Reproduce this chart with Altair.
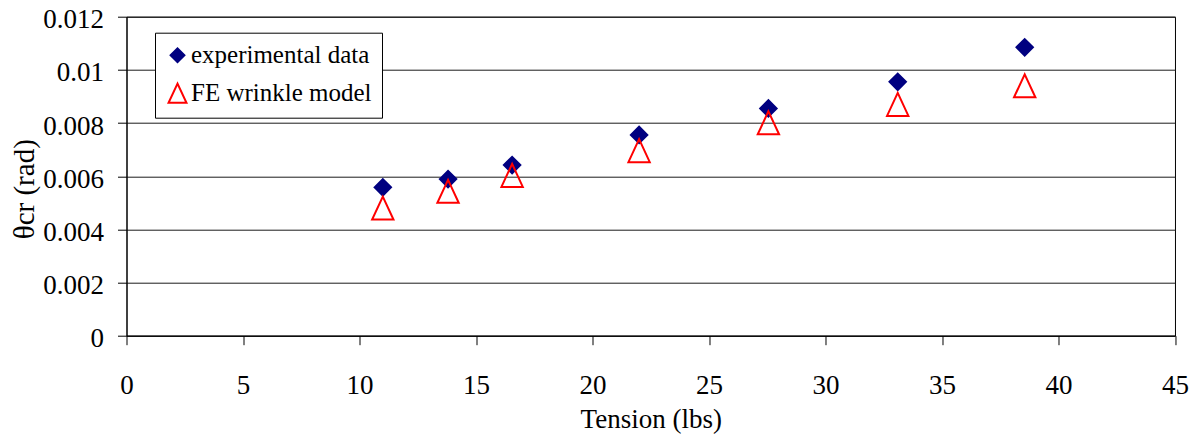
import altair as alt
import pandas as pd

# Data
series_names = ["experimental data", "FE wrinkle model"]
tension = [11.0, 13.8, 16.55, 22.0, 27.55, 33.1, 38.55]
exp_theta = [0.00558, 0.00589, 0.00642, 0.00755, 0.00855, 0.00955, 0.01085]
fe_theta = [0.0048, 0.00543, 0.00603, 0.00696, 0.00801, 0.0087, 0.0094]

x_ticks = [0, 5, 10, 15, 20, 25, 30, 35, 40, 45]
y_ticks = [0, 0.002, 0.004, 0.006, 0.008, 0.01, 0.012]

rows = []
for t, v in zip(tension, exp_theta):
    rows.append({"series": series_names[0], "tension": t, "theta": v})
for t, v in zip(tension, fe_theta):
    rows.append({"series": series_names[1], "tension": t, "theta": v})
df = pd.DataFrame(rows)

FONT = "Times New Roman, Liberation Serif, serif"
tri = "M0,-1.4L-1.3,1.4L1.3,1.4Z"

legend = alt.Legend(
    title=None,
    orient="none",
    legendX=28.5,
    legendY=16,
    fillColor="white",
    strokeColor="black",
    padding=10,
    symbolSize=190,
    symbolStrokeWidth=2,
    labelFont=FONT,
    labelFontSize=25,
    labelColor="black",
    labelOffset=1,
    labelLimit=400,
    rowPadding=10,
)

chart = (
    alt.Chart(df)
    .mark_point(filled=True, strokeWidth=2, opacity=1, size=270)
    .encode(
        x=alt.X(
            "tension:Q",
            scale=alt.Scale(domain=[0, 45], nice=False, zero=True),
            axis=alt.Axis(
                values=x_ticks,
                title="Tension (lbs)",
                grid=False,
                labelFlush=False,
                labelPadding=28,
                titleY=91.5,
                titleBaseline="alphabetic",
            ),
        ),
        y=alt.Y(
            "theta:Q",
            scale=alt.Scale(domain=[0, 0.012], nice=False),
            axis=alt.Axis(
                values=y_ticks,
                format=".3~f",
                title="θcr (rad)",
                grid=True,
                labelFlush=False,
                labelPadding=14,
                labelOffset=3,
                titleAngle=270,
                titleX=-102,
                titleY=172,
                titleAlign="center",
                titleBaseline="middle",
                titleFontSize=29,
            ),
        ),
        shape=alt.Shape(
            "series:N",
            scale=alt.Scale(domain=series_names, range=["diamond", tri]),
            legend=legend,
        ),
        fill=alt.Fill(
            "series:N",
            scale=alt.Scale(domain=series_names, range=["#000080", "transparent"]),
            legend=legend,
        ),
        stroke=alt.Stroke(
            "series:N",
            scale=alt.Scale(domain=series_names, range=["#000080", "#ff0000"]),
            legend=legend,
        ),
    )
    .properties(
        width=1048.5,
        height=319,
        autosize=alt.AutoSizeParams(type="none"),
        padding={"left": 118.5, "top": 8.7, "right": 19, "bottom": 110},
    )
    .configure(background="white", font=FONT)
    .configure_view(stroke="black", strokeWidth=1)
    .configure_axis(
        labelFont=FONT,
        titleFont=FONT,
        labelFontSize=27,
        titleFontSize=27,
        labelColor="black",
        titleColor="black",
        titleFontWeight="normal",
        domainColor="black",
        domainWidth=1,
        tickColor="black",
        tickSize=9,
        tickWidth=1,
        gridColor="#1a1a1a",
        gridWidth=1,
    )
)

chart.save("out.html", embed_options={"renderer": "svg", "actions": False})
